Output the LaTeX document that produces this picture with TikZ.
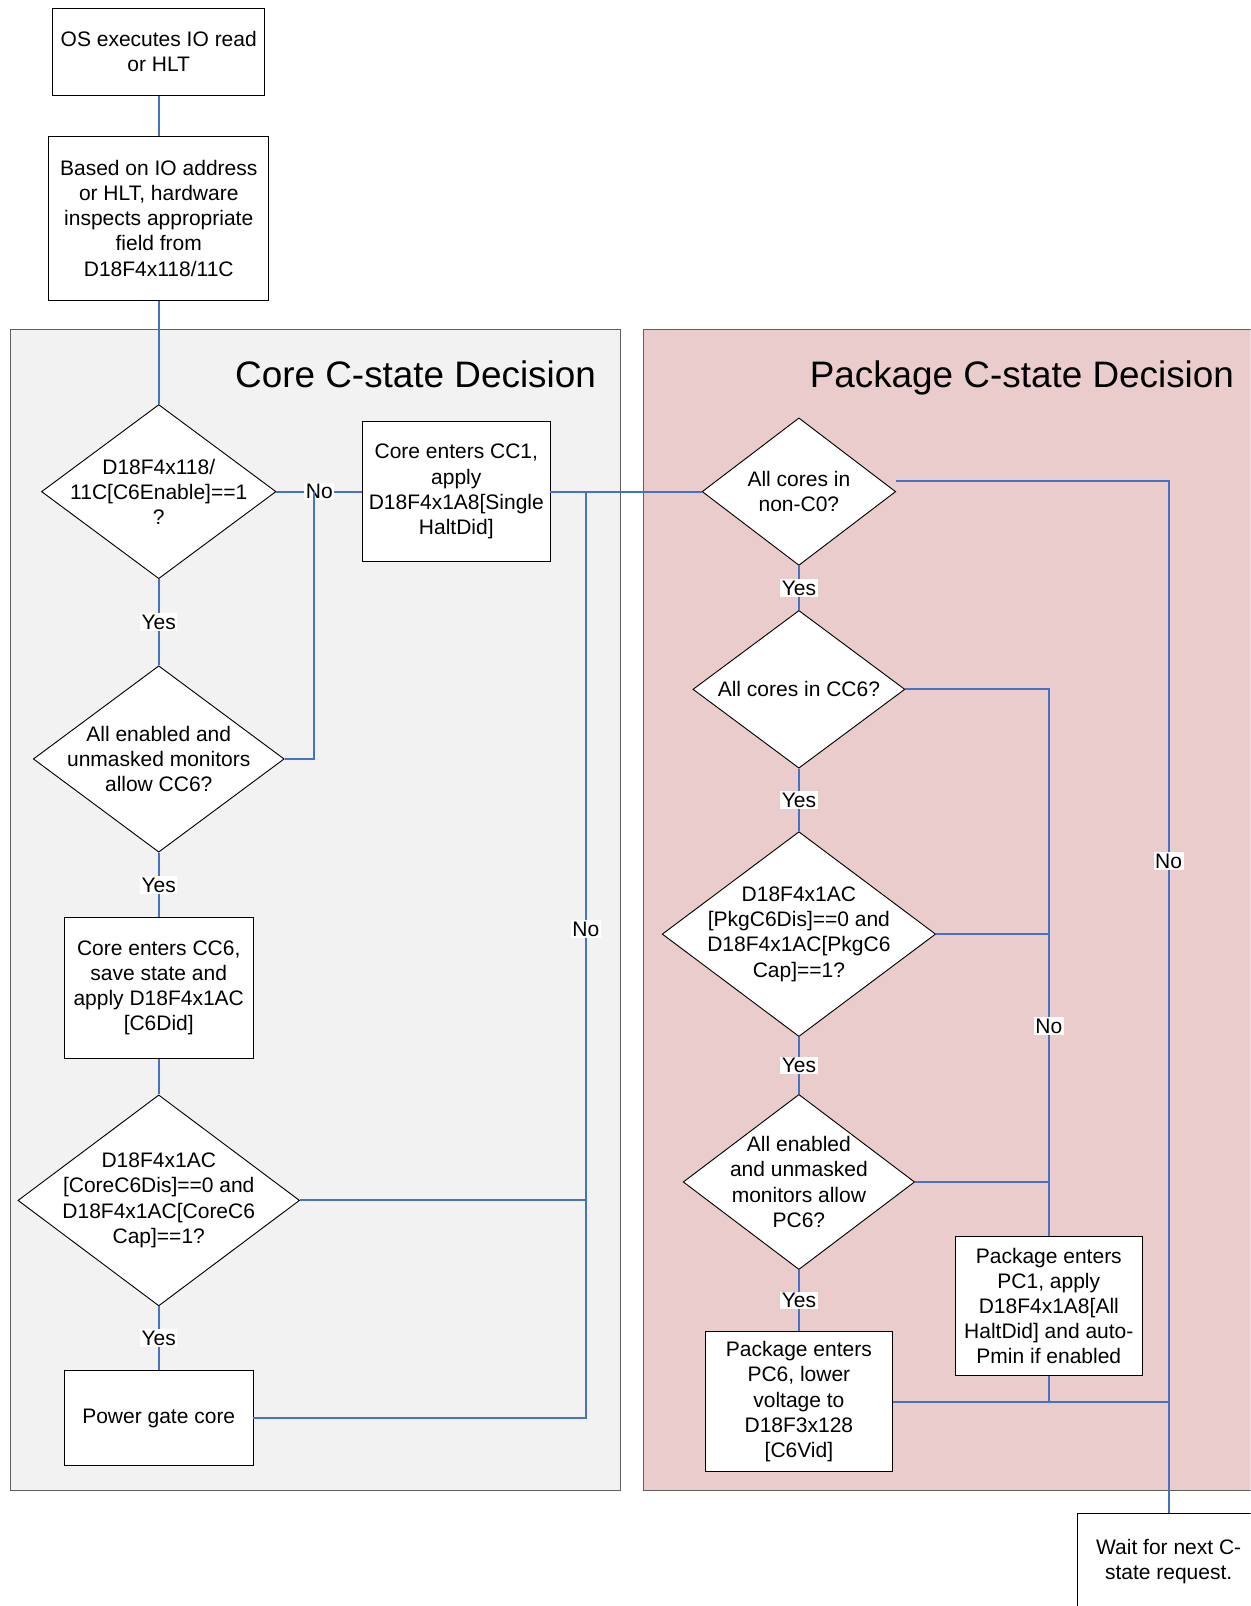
\documentclass[tikz,border=0pt]{standalone}
\usepackage{fontspec}
\setmainfont{Liberation Sans}
\usetikzlibrary{shapes.geometric,calc}
\definecolor{flowblue}{RGB}{68,114,196}
\definecolor{corefill}{RGB}{242,242,242}
\definecolor{pkgfill}{RGB}{235,204,204}
\definecolor{panelline}{RGB}{96,96,96}

\begin{document}
\begin{tikzpicture}[x=1pt,y=-1pt,
  every node/.style={font=\fontsize{20.5}{24.6}\selectfont},
  procbox/.style={draw=black,fill=white,line width=0.9pt,inner sep=0pt,align=center},
  decision/.style={diamond,draw=black,fill=white,line width=0.9pt,inner sep=0pt},
  dtext/.style={align=center,inner sep=0pt},
  flow/.style={draw=flowblue,line width=2pt},
  tag/.style={fill=white,inner sep=1.5pt},
  panel/.style={draw=panelline,line width=1pt},
  paneltitle/.style={font=\fontsize{36}{40}\selectfont,anchor=base east,inner sep=0pt}]

\useasboundingbox (0,0) rectangle (1221,1568);
\clip (0,0) rectangle (1221,1568);

% background panels
\path[panel,fill=corefill] (10,322) rectangle (606,1455);
\path[panel,fill=pkgfill] (628,322) rectangle (1240,1455);
\node[paneltitle] (coretitle) at (582,378) {Core C-state Decision};
\node[paneltitle] (pkgtitle) at (1205,378) {Package C-state Decision};

% process boxes
\node[procbox,minimum width=207pt,minimum height=85pt] (b1) at (155,50.5)
  {OS executes IO read\\or HLT};
\node[procbox,minimum width=215pt,minimum height=160pt] (b2) at (155,213)
  {Based on IO address\\or HLT, hardware\\inspects appropriate\\field from\\D18F4x118/11C};
\node[procbox,minimum width=183pt,minimum height=137pt] (cc1) at (445.5,480)
  {Core enters CC1,\\apply\\D18F4x1A8[Single\\HaltDid]};
\node[procbox,minimum width=184pt,minimum height=137pt] (cc6) at (155,964.5)
  {Core enters CC6,\\save state and\\apply D18F4x1AC\\{[C6Did]}};
\node[procbox,minimum width=184pt,minimum height=93pt] (pg) at (155,1384.5)
  {Power gate core};
\node[procbox,minimum width=183pt,minimum height=137pt] (pc6) at (780,1368.5)
  {Package enters\\PC6, lower\\voltage to\\D18F3x128\\{[C6Vid]}};
\node[procbox,minimum width=183pt,minimum height=136pt] (pc1) at (1024,1275)
  {Package enters\\PC1, apply\\D18F4x1A8[All\\HaltDid] and auto-\\Pmin if enabled};
\node[procbox,minimum width=178pt,minimum height=93pt] (wait) at (1141,1524.5)
  {Wait for next C-\\state request.};

% decisions
\node[decision,minimum width=229pt,minimum height=170pt] (d1) at (155,480) {};
\node[dtext] (d1t) at (d1) {D18F4x118/\\11C[C6Enable]==1\\?};
\node[decision,minimum width=245pt,minimum height=182pt] (d2) at (155,741) {};
\node[dtext] (d2t) at (d2) {All enabled and\\unmasked monitors\\allow CC6?};
\node[decision,minimum width=275pt,minimum height=206pt] (d3) at (155,1172) {};
\node[dtext] (d3t) at (d3) {D18F4x1AC\\{[CoreC6Dis]==0 and}\\D18F4x1AC[CoreC6\\Cap]==1?};
\node[decision,minimum width=189pt,minimum height=144pt] (d4) at (780,480) {};
\node[dtext] (d4t) at (d4) {All cores in\\non-C0?};
\node[decision,minimum width=207pt,minimum height=154pt] (d5) at (780,673) {};
\node[dtext] (d5t) at (d5) {All cores in CC6?};
\node[decision,minimum width=267pt,minimum height=200pt] (d6) at (780,912) {};
\node[dtext] (d6t) at (d6) {D18F4x1AC\\{[PkgC6Dis]==0 and}\\D18F4x1AC[PkgC6\\Cap]==1?};
\node[decision,minimum width=226pt,minimum height=171pt] (d7) at (780,1154) {};
\node[dtext] (d7t) at (d7) {All enabled\\and unmasked\\monitors allow\\PC6?};

% junction points on the horizontal runs
\coordinate (j1) at (307,480);
\coordinate (j2) at (572,480);

% core connectors
\path[flow] (b1.south) -- (b2.north);
\path[flow] (b2.south) -- (d1.north);
\path[flow] (d1.east) -- node[tag] (no1) {No} (cc1.west);
\path[flow] (d2.east) -| (j1);
\path[flow] (d1.south) -- node[tag] (yes1) {Yes} (d2.north);
\path[flow] (d2.south) -- node[tag] (yes2) {Yes} (cc6.north);
\path[flow] (cc6.south) -- (d3.north);
\path[flow] (d3.south) -- node[tag] (yes3) {Yes} (pg.north);
\path[flow] (cc1.east) -- (d4.west);
\path[flow] (d3.east) -- (d3.east -| j2);
\path[flow] (pg.east) -| node[tag,pos=0.764] (no2) {No} (j2);

% package connectors
\path[flow] (d4.south) -- node[tag] (yes4) {Yes} (d5.north);
\path[flow] (d5.south) -- node[tag] (yes5) {Yes} (d6.north);
\path[flow] (d6.south) -- node[tag] (yes6) {Yes} (d7.north);
\path[flow] (d7.south) -- node[tag] (yes7) {Yes} (pc6.north);
\path[flow] (d6.east) -- (d6.east -| pc1.north);
\path[flow] (d7.east) -- (d7.east -| pc1.north);
\path[flow] (d5.east) -| node[tag,pos=0.808] (no3) {No} (pc1.north);
\path[flow] (pc6.east) -- (pc6.east -| wait.north);
\path[flow] (pc1.south) -- (pc1.south |- pc6.east);
\path[flow] ($(d4.east)+(0,-10)$) -| node[tag,pos=0.684] (no4) {No} (wait.north);
\end{tikzpicture}
\end{document}
